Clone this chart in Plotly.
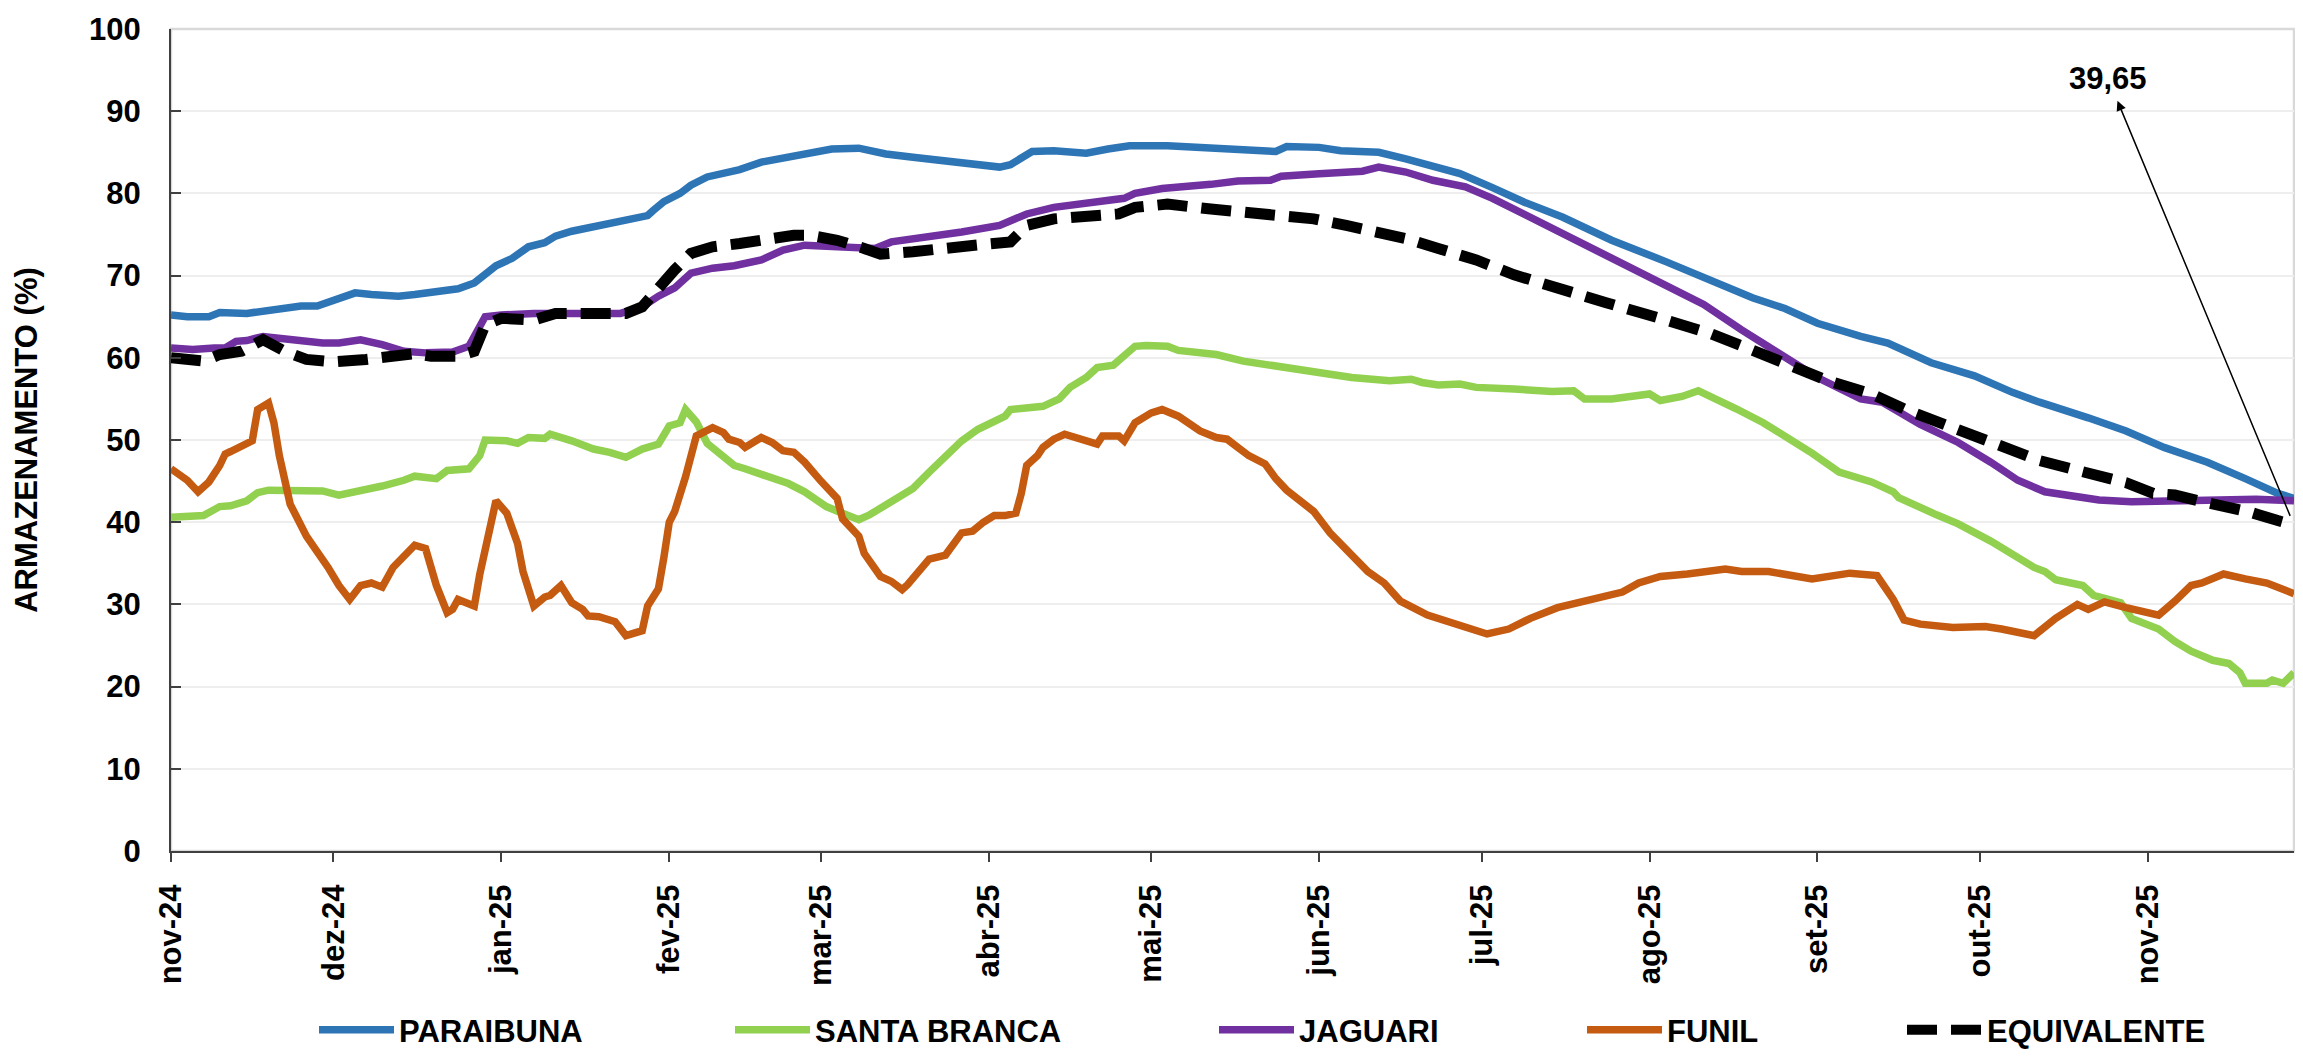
import numpy as np
import plotly.graph_objects as go

# ---------------- data ----------------
BASE_DATE = "2024-11-01"          # day 0 of the series
END_DAY = 392                     # last day shown (2025-11-28)

paraibuna_days = [0, 3, 7, 9, 14, 19, 24, 27, 30, 34, 37, 42, 45, 50, 53, 56, 58, 60, 63, 66, 69, 71, 74, 78,
                  81, 84, 88, 89, 91, 94, 96, 99, 102, 105, 109, 113, 117, 122, 127, 132, 137, 143, 148, 153,
                  155, 159, 163, 169, 173, 177, 184, 191, 198, 204, 206, 212, 216, 223, 228, 232, 238, 244,
                  250, 257, 266, 276, 284, 292, 298, 304, 312, 317, 325, 333, 340, 345, 354, 361, 368, 376,
                  383, 389, 392]
paraibuna_vals = [65.2, 65.0, 65.0, 65.5, 65.4, 65.9, 66.3, 66.3, 66.9, 67.9, 67.7, 67.5, 67.7, 68.0, 68.4,
                  69.1, 70.1, 71.2, 72.1, 73.5, 74.0, 74.8, 75.4, 75.9, 76.2, 76.7, 77.3, 77.9, 79.0, 80.0,
                  81.0, 82.0, 82.4, 82.9, 83.8, 84.3, 85.0, 85.4, 85.5, 84.8, 84.4, 84.0, 83.5, 83.2, 83.5,
                  85.1, 85.2, 84.9, 85.4, 85.8, 85.8, 85.5, 85.3, 85.1, 85.7, 85.6, 85.2, 85.0, 84.2, 83.4,
                  82.4, 80.7, 78.9, 77.1, 74.3, 71.7, 69.5, 67.3, 66.0, 64.2, 62.6, 61.8, 59.4, 57.8, 55.8,
                  54.6, 52.7, 51.1, 49.1, 47.3, 45.3, 43.5, 42.9]

santa_branca_days = [0, 6, 9, 11, 14, 16, 18, 23, 27, 28, 31, 35, 39, 43, 45, 49, 51, 55, 57, 58, 62, 64, 66,
                     69, 70, 74, 78, 81, 84, 87, 90, 92, 94, 95, 97, 99, 102, 104, 106, 109, 112, 114, 117,
                     121, 124, 127, 129, 132, 134, 137, 140, 143, 146, 149, 152, 154, 155, 158, 161, 164, 166,
                     169, 171, 174, 176, 178, 180, 184, 186, 193, 198, 204, 212, 218, 225, 229, 231, 234, 238,
                     241, 248, 255, 259, 261, 266, 273, 275, 279, 282, 286, 289, 294, 299, 301, 303, 308, 314,
                     318, 319, 326, 330, 336, 340, 344, 346, 348, 353, 355, 360, 362, 367, 370, 373, 377, 380,
                     382, 383, 387, 388, 390, 392]
santa_branca_vals = [40.6, 40.8, 41.9, 42.0, 42.6, 43.6, 43.9, 43.8, 43.7, 43.8, 43.3, 43.8, 44.4, 45.1, 45.6,
                     45.3, 46.3, 46.5, 48.1, 50.0, 49.9, 49.6, 50.3, 50.2, 50.7, 49.9, 48.9, 48.5, 47.9, 48.9,
                     49.5, 51.7, 52.1, 53.7, 52.2, 49.6, 48.1, 46.9, 46.5, 45.9, 45.3, 44.7, 43.7, 41.9, 41.1,
                     40.3, 40.9, 42.1, 42.9, 44.1, 46.1, 48.1, 49.9, 51.3, 52.4, 52.9, 53.7, 54.0, 54.1, 55.0,
                     56.4, 57.6, 58.8, 59.1, 60.4, 61.4, 61.5, 61.4, 60.9, 60.4, 59.6, 59.0, 58.3, 57.6, 57.2,
                     57.4, 57.0, 56.7, 56.8, 56.4, 56.2, 55.9, 56.0, 55.0, 55.0, 55.6, 54.8, 55.3, 56.0, 54.8,
                     53.8, 52.1, 50.1, 49.1, 48.4, 46.1, 44.9, 43.7, 43.0, 40.9, 39.8, 37.7, 36.0, 34.5, 34.0,
                     33.0, 32.3, 31.1, 30.2, 28.3, 27.0, 25.5, 24.3, 23.2, 22.8, 21.7, 20.4, 20.4, 20.8, 20.4,
                     21.7]

jaguari_days = [0, 4, 8, 10, 12, 14, 17, 21, 24, 28, 31, 35, 39, 43, 47, 52, 55, 57, 58, 61, 67, 74, 83, 87,
                90, 93, 96, 100, 104, 109, 113, 117, 125, 130, 133, 140, 146, 153, 158, 163, 170, 176, 178,
                183, 192, 197, 203, 205, 212, 220, 223, 228, 233, 239, 244, 250, 257, 266, 276, 283, 290, 297,
                304, 312, 316, 323, 330, 336, 341, 346, 351, 356, 362, 370, 378, 385, 392]
jaguari_vals = [61.2, 61.0, 61.2, 61.2, 62.0, 62.1, 62.6, 62.3, 62.2, 61.8, 61.8, 62.2, 61.6, 60.8, 60.6, 60.7,
                61.4, 64.0, 65.0, 65.2, 65.4, 65.4, 65.4, 66.2, 67.5, 68.5, 70.3, 70.9, 71.2, 71.9, 73.1, 73.7,
                73.5, 73.3, 74.1, 74.7, 75.3, 76.1, 77.5, 78.3, 78.8, 79.4, 80.0, 80.6, 81.1, 81.5, 81.6, 82.1,
                82.4, 82.7, 83.2, 82.6, 81.6, 80.8, 79.4, 77.4, 75.2, 72.3, 68.9, 66.5, 63.4, 60.6, 57.6, 55.0,
                54.6, 51.9, 49.7, 47.3, 45.1, 43.7, 43.1, 42.7, 42.5, 42.6, 42.9, 42.8, 42.6]

funil_days = [0, 3, 5, 7, 9, 10, 11, 13, 15, 16, 18, 19, 20, 22, 25, 29, 31, 33, 35, 37, 39, 41, 43, 45, 47,
              49, 51, 52, 53, 54, 56, 57, 59, 60, 62, 64, 65, 67, 69, 70, 72, 74, 76, 77, 79, 82, 84, 86, 87,
              88, 90, 91, 92, 93, 95, 97, 100, 102, 103, 105, 106, 108, 109, 111, 113, 115, 117, 120, 123, 124,
              127, 128, 131, 133, 135, 136, 138, 140, 143, 144, 146, 148, 150, 152, 154, 156, 157, 158, 160,
              161, 163, 165, 167, 169, 171, 172, 175, 176, 178, 181, 183, 186, 188, 190, 193, 195, 197, 199,
              202, 204, 206, 208, 211, 214, 217, 221, 224, 227, 232, 236, 240, 243, 247, 251, 256, 261, 265,
              268, 271, 275, 280, 287, 290, 295, 303, 310, 315, 318, 320, 323, 329, 335, 338, 344, 348, 352,
              354, 357, 361, 367, 370, 373, 375, 379, 383, 387, 392]
funil_vals = [46.5, 45.1, 43.7, 44.9, 46.9, 48.3, 48.6, 49.3, 49.9, 53.7, 54.5, 52.1, 48.1, 42.2, 38.3, 34.5,
              32.3, 30.6, 32.3, 32.6, 32.1, 34.5, 36.0, 37.2, 36.8, 32.3, 29.0, 29.4, 30.6, 30.4, 29.8, 33.6,
              39.6, 42.6, 41.1, 37.4, 34.0, 29.8, 30.9, 31.1, 32.3, 30.2, 29.4, 28.6, 28.5, 27.9, 26.2, 26.6,
              26.8, 29.8, 31.9, 35.7, 40.0, 41.3, 45.5, 50.5, 51.5, 50.9, 50.1, 49.7, 49.1, 49.9, 50.3, 49.7,
              48.7, 48.5, 47.3, 45.0, 42.9, 40.4, 38.3, 36.2, 33.4, 32.8, 31.8, 32.4, 34.0, 35.5, 36.0, 36.8,
              38.7, 38.9, 40.0, 40.8, 40.8, 41.1, 43.5, 46.9, 48.1, 49.1, 50.1, 50.7, 50.3, 49.9, 49.5, 50.5,
              50.5, 49.9, 52.1, 53.3, 53.7, 52.9, 52.1, 51.1, 50.3, 50.1, 49.1, 48.1, 47.1, 45.3, 43.9, 42.9,
              41.3, 38.7, 36.6, 34.0, 32.6, 30.4, 28.7, 27.9, 27.0, 26.4, 27.0, 28.3, 29.6, 30.4, 31.1, 31.5,
              32.6, 33.4, 33.7, 34.3, 34.0, 34.0, 33.1, 33.8, 33.5, 30.6, 28.1, 27.6, 27.2, 27.3, 27.0, 26.2,
              28.3, 30.0, 29.4, 30.3, 29.6, 28.7, 30.4, 32.3, 32.6, 33.7, 33.1, 32.6, 31.3]

equivalente_days = [0, 6, 9, 13, 17, 21, 25, 30, 36, 40, 45, 48, 53, 56, 58, 61, 67, 71, 77, 84, 87, 90, 93,
                    96, 100, 105, 110, 115, 118, 123, 128, 131, 137, 144, 150, 155, 158, 163, 170, 175, 178,
                    184, 192, 199, 203, 211, 217, 222, 228, 234, 241, 248, 256, 265, 276, 284, 291, 299, 306,
                    314, 321, 329, 337, 345, 352, 361, 366, 370, 375, 380, 384, 389, 392]
equivalente_vals = [60.0, 59.6, 60.4, 60.8, 62.2, 60.8, 59.8, 59.5, 59.8, 60.2, 60.5, 60.2, 60.2, 60.8, 64.0,
                    64.8, 64.6, 65.4, 65.4, 65.4, 66.2, 68.7, 70.7, 72.7, 73.5, 73.9, 74.5, 74.9, 74.9, 74.3,
                    73.3, 72.6, 72.9, 73.5, 73.8, 74.1, 76.1, 76.9, 77.1, 77.5, 78.3, 78.7, 78.1, 77.7, 77.3,
                    76.9, 76.1, 75.5, 74.5, 73.3, 71.9, 70.1, 68.4, 66.7, 64.6, 63.0, 61.2, 59.2, 57.2, 55.6,
                    53.5, 51.5, 49.5, 47.5, 46.3, 44.8, 43.5, 43.3, 42.5, 41.9, 41.2, 40.2, 39.65]

month_ticks = ["2024-11-01", "2024-12-01", "2025-01-01", "2025-02-01", "2025-03-01", "2025-04-01",
               "2025-05-01", "2025-06-01", "2025-07-01", "2025-08-01", "2025-09-01", "2025-10-01",
               "2025-11-01"]
month_labels = ["nov-24", "dez-24", "jan-25", "fev-25", "mar-25", "abr-25", "mai-25", "jun-25",
                "jul-25", "ago-25", "set-25", "out-25", "nov-25"]

final_label = "39,65"

# ---------------- helpers ----------------
base = np.datetime64(BASE_DATE)


def to_dates(days):
    return np.datetime_as_string(base + np.array(days, dtype="timedelta64[D]"), unit="D")


end_date = str(base + np.timedelta64(END_DAY, "D"))

FONT = "Liberation Sans, Arial, Helvetica, sans-serif"
FS = 31

series = [
    ("PARAIBUNA", paraibuna_days, paraibuna_vals, "#2E75B6", 7.5, "solid", "legend"),
    ("SANTA BRANCA", santa_branca_days, santa_branca_vals, "#92D050", 7.5, "solid", "legend2"),
    ("JAGUARI", jaguari_days, jaguari_vals, "#7030A0", 7.5, "solid", "legend3"),
    ("FUNIL", funil_days, funil_vals, "#C55A11", 7.5, "solid", "legend4"),
    ("EQUIVALENTE", equivalente_days, equivalente_vals, "#000000", 11, "30px,14px", "legend5"),
]

fig = go.Figure()
for name, d, v, color, w, dash, lg in series:
    fig.add_trace(go.Scatter(
        x=to_dates(d), y=v, name=name, mode="lines",
        line=dict(color=color, width=w, dash=dash),
        legend=lg,
    ))

# figure geometry
W, H = 2303, 1061
ML, MR, MT, MB = 163, 17, 21, 200
PW = W - ML - MR
PH = H - MT - MB

ITEMW = 75
# legend text starts (px) in the reference
legend_text_px = [396, 812, 1296, 1664, 1984]
legend_y = -(1044 - (H - MB)) / PH

legends = {}
for i, tx in enumerate(legend_text_px):
    key = "legend" if i == 0 else f"legend{i + 1}"
    legends[key] = dict(
        x=(tx - 45 - (ITEMW - 30) - ML) / PW, xanchor="left", xref="paper",
        y=legend_y, yanchor="middle", yref="paper",
        orientation="h", bgcolor="rgba(0,0,0,0)",
        font=dict(family=FONT, size=FS, color="#000000", weight="bold"),
        itemwidth=ITEMW,
    )

fig.update_layout(
    template="none",
    width=W, height=H,
    margin=dict(l=ML, r=MR, t=MT, b=MB, pad=0),
    paper_bgcolor="#FFFFFF", plot_bgcolor="#FFFFFF",
    font=dict(family=FONT, size=FS, color="#000000", weight="bold"),
    showlegend=True,
    **legends,
)

fig.update_xaxes(
    type="date",
    range=[BASE_DATE, end_date],
    tickvals=month_ticks, ticktext=month_labels,
    tickangle=-90,
    tickfont=dict(family=FONT, size=FS, color="#000000", weight="bold"),
    ticks="outside", ticklen=9, tickwidth=2, tickcolor="#404040",
    ticklabelstandoff=10,
    showline=True, linecolor="#404040", linewidth=2,
    showgrid=False, zeroline=False, automargin=False,
)

fig.update_yaxes(
    range=[0, 100], dtick=10, tick0=0,
    tickfont=dict(family=FONT, size=FS, color="#000000", weight="bold"),
    ticks="inside", ticklen=10, tickwidth=2, tickcolor="#404040",
    ticklabelstandoff=22,
    showline=True, linecolor="#404040", linewidth=2,
    showgrid=True, gridcolor="#EEEEEE", gridwidth=1.5,
    zeroline=False, automargin=False,
    title=dict(text="ARMAZENAMENTO (%)", standoff=42,
               font=dict(family=FONT, size=FS, color="#000000", weight="bold")),
)

# light plot-area border (top/right) like the reference
fig.add_shape(type="rect", xref="paper", yref="paper", x0=0, y0=0, x1=1, y1=1,
              line=dict(color="#D9D9D9", width=2.5), layer="below")

# callout for the last value of EQUIVALENTE
fig.add_annotation(
    x=end_date, y=equivalente_vals[-1], xref="x", yref="y",
    text=final_label, showarrow=True,
    ax=-186, ay=-447, axref="pixel", ayref="pixel",
    arrowside="start", startarrowhead=2, startarrowsize=1.3,
    arrowwidth=1.5, arrowcolor="#000000", standoff=10, startstandoff=4,
    font=dict(family=FONT, size=FS, color="#000000", weight="bold"),
)

fig.write_html("out.html")
